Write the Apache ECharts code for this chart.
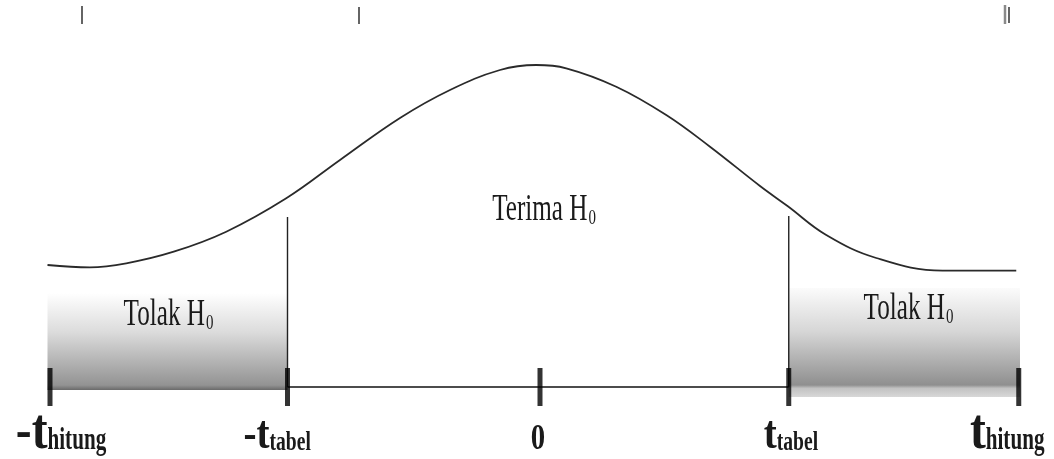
<!DOCTYPE html>
<html>
<head>
<meta charset="utf-8">
<script src="https://cdn.jsdelivr.net/npm/echarts@6/dist/echarts.min.js"></script>
<style>
html, body { margin: 0; padding: 0; background: #fff; }
#main { width: 1054px; height: 459px; }
</style>
</head>
<body>
<div id="main"></div>
<script>
// kurva: x dalam satuan t, y = tinggi di atas garis dasar
let curveX = [-3.94, -3.6, -3.31, -2.93, -2.51, -2.03, -1.6, -1.12, -0.72, -0.32, -0.03, 0.21, 0.61, 1.01, 1.36, 1.76, 1.98, 2.29, 2.69, 3.22, 3.81]
let curveY = [122, 119.7, 123.7, 135.3, 155.3, 188.7, 227, 269, 297, 317, 322, 318.7, 300.3, 272, 240.3, 201, 181, 152, 129, 116.3, 116.3]

// titik pada sumbu
let tickValues = [-3.92, -2.02, 0, 1.99, 3.83]
let tickMain = ['-t', '-t', '0', 't', 't']
let tickSub = ['hitung', 'tabel', '', 'tabel', 'hitung']

// daerah tolak H0
let zoneFrom = [-3.94, 1.99]
let zoneTo = [-2.02, 3.84]
let zoneTop = [94, 99]
let zoneBottom = [-3, -10]

// garis batas t tabel
let cutX = [-2.02, 1.99]
let cutTop = [170, 171]

// teks di dalam daerah
let zoneText = ['Tolak H', 'Terima H', 'Tolak H']
let zoneSub = ['0', '0', '0']
let zoneTextX = [-2.68, 0.38, 3.24]
let zoneTextY = [59, 164, 65]

// goresan kecil di tepi atas
let stubX = [-3.664, -1.448, 3.72, 3.752]
let stubTop = [381, 380, 382, 380]
let stubBottom = [363, 363, 363, 364]

let serif = "'Liberation Serif', 'DejaVu Serif', serif"

// teks dengan baseline di titik y (zrender pakai textBaseline middle)
function txt(str, x, baseY, size, bold, align, sx) {
	return {
		type: 'text',
		x: x,
		y: baseY - 0.3375 * size,
		scaleX: sx,
		style: {
			text: str,
			font: (bold ? 'bold ' : '') + size + 'px ' + serif,
			fill: '#1a1a1a',
			align: align,
			verticalAlign: 'middle'
		}
	}
}

let myChart = echarts.init(document.getElementById('main'))

let zoneFills = [
	[[0, '#ffffff'], [0.4, '#dcdcdc'], [0.95, '#939393'], [1, '#6a6a6a']],
	[[0, '#fbfbfb'], [0.4, '#d6d6d6'], [0.89, '#8f8f8f'], [0.92, '#c2c2c2'], [1, '#d8d8d8']]
]
let stubStyle = [['#111', 1.3], ['#111', 1.3], ['#8a8a8a', 2.5], ['#111', 1.3]]
// geser label dari titik tick (px)
let labelShift = [-2.5, -18, -2, -12, -33]

var option = {
	animation: false,
	grid: { left: 0, right: 0, top: 0, bottom: 0 },
	xAxis: { type: 'value', min: -4.32, max: 4.112, show: false },
	yAxis: { type: 'value', min: -72, max: 387, show: false },
	series: [
		{
			// kotak abu-abu daerah tolak
			type: 'custom',
			data: zoneFrom.map(function(v, i) { return [v, zoneTo[i], zoneTop[i], zoneBottom[i]] }),
			renderItem: function(params, api) {
				let p0 = api.coord([api.value(0), api.value(2)])
				let p1 = api.coord([api.value(1), api.value(3)])
				return {
					type: 'rect',
					shape: { x: p0[0], y: p0[1], width: p1[0] - p0[0], height: p1[1] - p0[1] },
					style: {
						fill: {
							type: 'linear', x: 0, y: 0, x2: 0, y2: 1,
							colorStops: zoneFills[params.dataIndex].map(function(s) { return { offset: s[0], color: s[1] } })
						}
					}
				}
			},
			z: 1
		},
		{
			// garis dasar
			type: 'line',
			data: [[tickValues[1], 0], [tickValues[3], 0]],
			showSymbol: false,
			lineStyle: { color: '#111', width: 1.5 },
			z: 2
		},
		{
			// garis t tabel
			type: 'custom',
			data: cutX.map(function(v, i) { return [v, cutTop[i]] }),
			renderItem: function(params, api) {
				let a = api.coord([api.value(0), api.value(1)])
				let b = api.coord([api.value(0), 0])
				return {
					type: 'line',
					shape: { x1: a[0], y1: a[1], x2: b[0], y2: b[1] },
					style: { stroke: '#222', lineWidth: 1.4 }
				}
			},
			z: 2
		},
		{
			// kurva distribusi
			type: 'line',
			data: curveX.map(function(v, i) { return [v, curveY[i]] }),
			smooth: 0.4,
			showSymbol: false,
			lineStyle: { color: '#2a2a2a', width: 1.8 },
			z: 3
		},
		{
			// tick tebal
			type: 'scatter',
			data: tickValues.map(function(v) { return [v, 0] }),
			symbol: 'rect',
			symbolSize: [5, 38],
			itemStyle: { color: '#000' },
			z: 4
		},
		{
			// label tick
			type: 'custom',
			data: tickValues.map(function(v) { return [v, 0] }),
			renderItem: function(params, api) {
				let i = params.dataIndex
				let p = api.coord([api.value(0), api.value(1)])
				let x = p[0] + labelShift[i]
				let base = p[1] + 65
				if (!tickSub[i]) {
					return txt(tickMain[i], x, base, 36, true, 'center', 0.8)
				}
				let big = tickSub[i] == 'hitung' ? 56 : 46
				let small = tickSub[i] == 'hitung' ? 32 : 28
				return {
					type: 'group',
					children: [
						txt(tickMain[i], x, base, big, true, 'right', 0.85),
						txt(tickSub[i], x, base, small, true, 'left', tickSub[i] == 'hitung' ? 0.66 : 0.7)
					]
				}
			},
			z: 5
		},
		{
			// teks Tolak / Terima H0
			type: 'custom',
			data: zoneTextX.map(function(v, i) { return [v, zoneTextY[i]] }),
			renderItem: function(params, api) {
				let i = params.dataIndex
				let p = api.coord([api.value(0), api.value(1)])
				return {
					type: 'group',
					children: [
						txt(zoneText[i], p[0], p[1], 37, false, 'right', 0.68),
						txt(zoneSub[i], p[0] + 1, p[1] + 3, 22, false, 'left', 0.68)
					]
				}
			},
			z: 5
		},
		{
			// goresan di atas
			type: 'custom',
			data: stubX.map(function(v, i) { return [v, stubTop[i], stubBottom[i]] }),
			renderItem: function(params, api) {
				let a = api.coord([api.value(0), api.value(1)])
				let b = api.coord([api.value(0), api.value(2)])
				let s = stubStyle[params.dataIndex]
				return {
					type: 'line',
					shape: { x1: a[0], y1: a[1], x2: b[0], y2: b[1] },
					style: { stroke: s[0], lineWidth: s[1] }
				}
			},
			z: 2
		}
	]
};

myChart.setOption(option);
</script>
</body>
</html>
